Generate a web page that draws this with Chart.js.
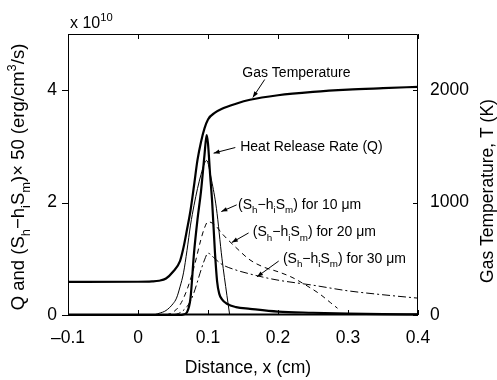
<!DOCTYPE html>
<html>
<head>
<meta charset="utf-8">
<script src="https://cdn.jsdelivr.net/npm/chart.js"></script>
<style>
  html, body { margin: 0; padding: 0; background: #fff; }
</style>
</head>
<body>
<canvas id="myChart" width="497" height="380"></canvas>
<script>
// axis ticks
const xTicks = [-0.1, 0, 0.1, 0.2, 0.3, 0.4];
const xTickLabels = ['\u20130.1', '0', '0.1', '0.2', '0.3', '0.4'];
const qTicks = [0, 2, 4];
const tempTicks = [0, 1000, 2000];

// gas temperature (K), right axis
const gasX = [-0.1, 0, 0.02, 0.03, 0.04, 0.05, 0.06, 0.065, 0.07, 0.075, 0.08, 0.085, 0.09, 0.095, 0.1, 0.11, 0.12, 0.14, 0.16, 0.2, 0.25, 0.3, 0.35, 0.4];
const gasT = [295, 296, 299, 305, 325, 385, 480, 600, 760, 930, 1150, 1380, 1540, 1660, 1740, 1800, 1835, 1880, 1915, 1955, 1985, 2005, 2018, 2030];

// heat release rate Q (x 1e10)
const qX = [-0.1, 0.06, 0.065, 0.07, 0.075, 0.08, 0.085, 0.09, 0.095, 0.098, 0.1, 0.103, 0.106, 0.11, 0.113, 0.116, 0.12, 0.127, 0.14, 0.16, 0.2, 0.25, 0.3, 0.35, 0.4];
const qY = [0, 0, 0.01, 0.05, 0.3, 1.1, 1.7, 2.2, 2.85, 3.2, 3.05, 2.5, 2.0, 1.1, 0.6, 0.38, 0.28, 0.2, 0.14, 0.11, 0.06, 0.04, 0.025, 0.015, 0.01];

// (Sh - hi Sm) x 50, 10 um
const s10X = [-0.1, 0.02, 0.03, 0.04, 0.05, 0.055, 0.06, 0.065, 0.07, 0.075, 0.08, 0.085, 0.09, 0.095, 0.098, 0.105, 0.112, 0.12, 0.127, 0.131];
const s10Y = [0, 0, 0.03, 0.08, 0.2, 0.3, 0.5, 0.75, 1.15, 1.6, 1.95, 2.25, 2.5, 2.7, 2.75, 2.4, 1.9, 1.0, 0.35, 0];

// 20 um
const s20X = [0.04, 0.05, 0.06, 0.07, 0.08, 0.09, 0.095, 0.1, 0.11, 0.12, 0.13, 0.14, 0.16, 0.18, 0.2, 0.22, 0.24, 0.26, 0.275, 0.285];
const s20Y = [0, 0.05, 0.18, 0.45, 0.85, 1.35, 1.55, 1.66, 1.6, 1.45, 1.32, 1.2, 0.98, 0.85, 0.77, 0.67, 0.53, 0.37, 0.22, 0.12];

// 30 um
const s30X = [0.05, 0.06, 0.07, 0.075, 0.08, 0.09, 0.095, 0.1, 0.11, 0.12, 0.14, 0.16, 0.18, 0.2, 0.25, 0.3, 0.35, 0.4];
const s30Y = [0, 0.04, 0.15, 0.25, 0.4, 0.8, 0.98, 1.1, 1.0, 0.9, 0.8, 0.73, 0.67, 0.62, 0.53, 0.43, 0.36, 0.3];

const pts = (xs, ys) => xs.map((v, i) => ({ x: v, y: ys[i] }));

const FONT = '"Liberation Sans", Arial, Helvetica, sans-serif';
const sub = t => ({ t, s: 'sub' });
const sup = t => ({ t, s: 'sup' });
const shm = [{ t: '(S' }, sub('h'), { t: '\u2212h' }, sub('i'), { t: 'S' }, sub('m'), { t: ')' }];

// annotations: text left/middle and arrow in data units (left axis)
const notes = [
  { parts: [{ t: 'Gas Temperature' }], x: 0.149, y: 4.33, from: [0.181, 4.19], to: [0.164, 3.87] },
  { parts: [{ t: 'Heat Release Rate (Q)' }], x: 0.146, y: 3.01, from: [0.139, 2.98], to: [0.108, 2.88] },
  { parts: [...shm, { t: ' for 10 \u03bcm' }], x: 0.143, y: 1.98, from: [0.141, 1.96], to: [0.119, 1.84] },
  { parts: [...shm, { t: ' for 20 \u03bcm' }], x: 0.164, y: 1.49, from: [0.158, 1.46], to: [0.134, 1.29] },
  { parts: [...shm, { t: ' for 30 \u03bcm' }], x: 0.207, y: 1.02, from: [0.201, 0.96], to: [0.17, 0.68] }
];

function richWidth(ctx, parts, size) {
  let w = 0;
  for (const p of parts) {
    ctx.font = (p.s ? size * 0.7 : size) + 'px ' + FONT;
    w += ctx.measureText(p.t).width;
  }
  return w;
}

function drawRich(ctx, parts, x, y, size) {
  for (const p of parts) {
    const fs = p.s ? size * 0.7 : size;
    ctx.font = fs + 'px ' + FONT;
    const dy = p.s === 'sub' ? size * 0.32 : p.s === 'sup' ? -size * 0.45 : 0;
    ctx.fillText(p.t, x, y + dy);
    x += ctx.measureText(p.t).width;
  }
}

function arrow(ctx, x1, y1, x2, y2) {
  ctx.beginPath();
  ctx.moveTo(x1, y1);
  ctx.lineTo(x2, y2);
  ctx.stroke();
  const ang = Math.atan2(y2 - y1, x2 - x1);
  const L = 6, W = 2.2;
  ctx.beginPath();
  ctx.moveTo(x2, y2);
  ctx.lineTo(x2 - L * Math.cos(ang) + W * Math.sin(ang), y2 - L * Math.sin(ang) - W * Math.cos(ang));
  ctx.lineTo(x2 - L * Math.cos(ang) - W * Math.sin(ang), y2 - L * Math.sin(ang) + W * Math.cos(ang));
  ctx.closePath();
  ctx.fill();
}

const overlay = {
  id: 'overlay',
  afterDraw(chart) {
    const { ctx, chartArea: a, scales: { x, y, y1 } } = chart;
    ctx.save();
    ctx.strokeStyle = '#000';
    ctx.fillStyle = '#000';

    // frame
    ctx.lineWidth = 1;
    ctx.beginPath();
    ctx.moveTo(a.left + 0.5, a.bottom);
    ctx.lineTo(a.left + 0.5, a.top + 0.5);
    ctx.lineTo(a.right - 0.5, a.top + 0.5);
    ctx.lineTo(a.right - 0.5, a.bottom);
    ctx.stroke();
    ctx.lineWidth = 2;
    ctx.beginPath();
    ctx.moveTo(a.left, a.bottom - 0.5);
    ctx.lineTo(a.right, a.bottom - 0.5);
    ctx.stroke();

    // tick marks
    ctx.lineWidth = 1;
    ctx.beginPath();
    xTicks.forEach(v => {
      const px = Math.round(x.getPixelForValue(v)) + 0.5;
      ctx.moveTo(px, a.bottom); ctx.lineTo(px, a.bottom - 5);
      ctx.moveTo(px, a.top); ctx.lineTo(px, a.top + 5);
    });
    qTicks.forEach(v => {
      const py = Math.round(y.getPixelForValue(v)) + 0.5;
      ctx.moveTo(a.left, py); ctx.lineTo(a.left - 6, py);
    });
    tempTicks.forEach(v => {
      const py = Math.round(y1.getPixelForValue(v)) + 0.5;
      ctx.moveTo(a.right, py); ctx.lineTo(a.right - 5, py);
    });
    ctx.stroke();

    // annotations
    ctx.textAlign = 'left';
    ctx.textBaseline = 'alphabetic';
    ctx.lineWidth = 1;
    notes.forEach(n => {
      const tx = x.getPixelForValue(n.x);
      const ty = y.getPixelForValue(n.y) + 14 * 0.36;
      drawRich(ctx, n.parts, tx, ty, 14);
      arrow(ctx, x.getPixelForValue(n.from[0]), y.getPixelForValue(n.from[1]),
        x.getPixelForValue(n.to[0]), y.getPixelForValue(n.to[1]));
    });

    // exponent
    drawRich(ctx, [{ t: 'x 10' }, sup('10')], 70, 28, 16);

    // x title
    ctx.font = '17.5px ' + FONT;
    ctx.textAlign = 'center';
    ctx.textBaseline = 'middle';
    ctx.fillText('Distance, x (cm)', 248, 368);

    // right title
    ctx.save();
    ctx.translate(488, 191);
    ctx.rotate(-Math.PI / 2);
    ctx.fillText('Gas Temperature, T (K)', 0, 0);
    ctx.restore();

    // left title
    const leftParts = [{ t: 'Q and (S' }, sub('h'), { t: '\u2212h' }, sub('i'), { t: 'S' }, sub('m'),
      { t: ')\u00d7 50 (erg/cm' }, sup('3'), { t: '/s)' }];
    ctx.save();
    ctx.translate(24, 177);
    ctx.rotate(-Math.PI / 2);
    ctx.textAlign = 'left';
    ctx.textBaseline = 'alphabetic';
    const w = richWidth(ctx, leftParts, 18.5);
    drawRich(ctx, leftParts, -w / 2, 0, 18.5);
    ctx.restore();

    ctx.restore();
  }
};

const ctx = document.getElementById('myChart');
new Chart(ctx, {
  type: 'line',
  data: {
    datasets: [
      { label: 'Gas Temperature', data: pts(gasX, gasT), yAxisID: 'y1', borderColor: '#000', borderWidth: 2.2 },
      { label: 'Q', data: pts(qX, qY), yAxisID: 'y', borderColor: '#000', borderWidth: 2.2 },
      { label: '10 um', data: pts(s10X, s10Y), yAxisID: 'y', borderColor: '#000', borderWidth: 1 },
      { label: '20 um', data: pts(s20X, s20Y), yAxisID: 'y', borderColor: '#000', borderWidth: 1, borderDash: [5, 4] },
      { label: '30 um', data: pts(s30X, s30Y), yAxisID: 'y', borderColor: '#000', borderWidth: 1, borderDash: [8, 3, 2, 3] }
    ]
  },
  options: {
    responsive: false,
    animation: false,
    clip: false,
    layout: { padding: { top: 34, left: 0, right: 0, bottom: 0 } },
    elements: {
      point: { radius: 0 },
      line: { cubicInterpolationMode: 'monotone', fill: false }
    },
    plugins: { legend: { display: false }, tooltip: { enabled: false } },
    scales: {
      x: {
        type: 'linear', min: -0.1, max: 0.4,
        grid: { display: false, drawTicks: false },
        border: { display: false },
        afterBuildTicks: s => { s.ticks = xTicks.map(v => ({ value: v })); },
        afterFit: s => { s.height = 65; },
        ticks: {
          padding: 13, color: '#000', font: { size: 17.5, family: FONT }, maxRotation: 0,
          callback: (v, i) => xTickLabels[i]
        }
      },
      y: {
        position: 'left', min: 0, max: 5,
        grid: { display: false, drawTicks: false },
        border: { display: false },
        afterBuildTicks: s => { s.ticks = qTicks.map(v => ({ value: v })); },
        afterFit: s => { s.width = 68; },
        ticks: { padding: 11, color: '#000', font: { size: 17.5, family: FONT }, callback: v => String(v) }
      },
      y1: {
        position: 'right', min: 0, max: 2500,
        grid: { display: false, drawTicks: false },
        border: { display: false },
        afterBuildTicks: s => { s.ticks = tempTicks.map(v => ({ value: v })); },
        afterFit: s => { s.width = 79; },
        ticks: { padding: 12, color: '#000', font: { size: 17.5, family: FONT }, callback: v => String(v) }
      }
    }
  }
  ,
  plugins: [overlay]
});
</script>
</body>
</html>
